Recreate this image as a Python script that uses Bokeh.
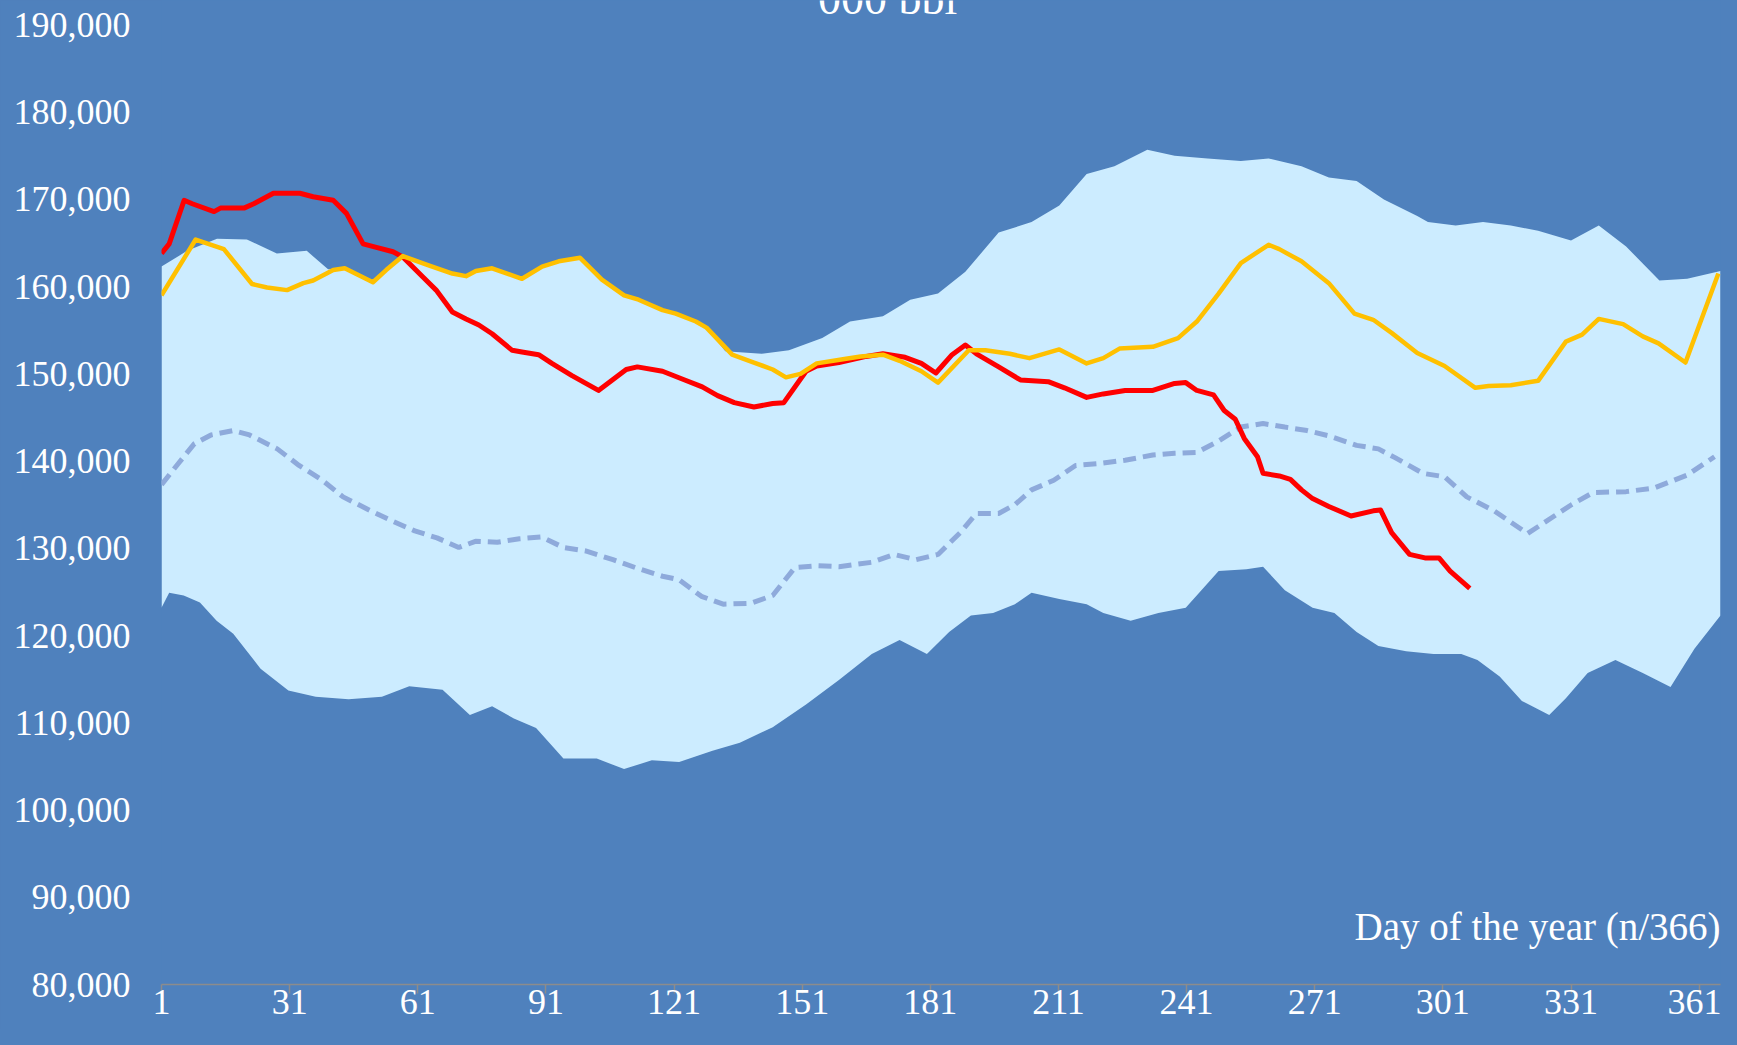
from bokeh.plotting import figure
from bokeh.models import FixedTicker, NumeralTickFormatter, Label, Range1d
from bokeh.embed import file_html
from bokeh.resources import INLINE

# ---- data (day of year, thousand barrels) ----
band_upper_days = [1, 7, 14, 21, 28, 35, 40, 43.9, 50.5, 53.6, 57.5, 63.7, 69.1, 72.3, 74.6, 78.4, 85.4,
                   90.1, 94.0, 99.0, 104.1, 109.3, 112.7, 118.3, 121.4, 126.1, 128.6, 133.0, 141.5, 147.9,
                   155.7, 162.2, 169.9, 176.3, 182.8, 189.2, 197.0, 204.7, 211.2, 217.6, 224.1, 231.8,
                   238.2, 245.9, 253.7, 260.2, 267.9, 274.3, 280.8, 287.2, 295.0, 297.5, 304.0, 310.4,
                   316.9, 323.3, 331.0, 337.5, 343.9, 351.7, 358.2, 366]
band_upper = [162.3, 164.1, 165.5, 165.4, 163.8, 164.1, 162.0, 162.1, 160.5, 161.9, 163.5, 162.4, 161.5,
              161.2, 161.8, 162.1, 160.9, 162.3, 162.9, 163.3, 160.8, 159.0, 158.5, 157.3, 156.9, 156.0,
              155.3, 152.6, 152.3, 152.7, 154.1, 156.0, 156.6, 158.5, 159.2, 161.7, 166.2, 167.4, 169.3,
              172.9, 173.8, 175.7, 175.0, 174.7, 174.4, 174.7, 173.8, 172.5, 172.1, 170.0, 168.1, 167.4,
              167.0, 167.4, 167.0, 166.4, 165.3, 167.0, 164.6, 160.7, 160.9, 161.8]

band_lower_days = [1, 2.8, 6.2, 10.0, 13.9, 17.8, 24.2, 30.7, 37.1, 44.8, 52.6, 59.0, 66.8, 73.2, 78.4,
                   83.5, 88.7, 95.1, 102.9, 109.3, 115.8, 122.2, 130.0, 136.4, 144.1, 151.9, 159.6, 167.3,
                   173.8, 180.2, 185.4, 190.5, 195.7, 200.8, 204.7, 211.2, 217.6, 221.5, 227.9, 234.4,
                   240.8, 248.5, 255.0, 258.9, 264.0, 270.5, 275.6, 280.8, 285.9, 292.4, 298.8, 305.3,
                   309.1, 314.3, 319.5, 325.9, 329.8, 334.9, 341.4, 347.8, 354.3, 359.9, 366]
band_lower = [123.2, 124.9, 124.6, 123.8, 121.7, 120.2, 116.2, 113.7, 113.0, 112.7, 113.0, 114.2, 113.8,
              110.9, 111.9, 110.5, 109.4, 105.9, 105.9, 104.7, 105.7, 105.5, 106.8, 107.7, 109.5, 112.1,
              114.9, 117.9, 119.5, 117.9, 120.4, 122.3, 122.6, 123.6, 124.9, 124.2, 123.6, 122.6, 121.7,
              122.6, 123.2, 127.4, 127.6, 127.9, 125.2, 123.2, 122.6, 120.4, 118.8, 118.2, 117.9, 117.9,
              117.2, 115.3, 112.5, 110.9, 112.8, 115.7, 117.2, 115.7, 114.1, 118.5, 122.3]

avg_days = [1, 4.9, 8.7, 12.6, 17.8, 21.6, 28.1, 33.2, 38.4, 43.5, 50.0, 55.2, 60.3, 65.5, 70.6, 74.5,
            79.6, 84.8, 90.0, 95.1, 100.3, 106.7, 111.9, 118.3, 122.2, 127.4, 132.5, 139.0, 144.1, 149.3,
            154.4, 159.6, 167.3, 172.5, 177.6, 182.8, 188.0, 191.8, 197.0, 200.8, 204.7, 209.9, 215.0,
            220.2, 226.6, 233.1, 238.2, 243.4, 248.5, 253.7, 258.9, 264.0, 269.2, 274.3, 280.8, 285.9,
            289.8, 296.3, 301.4, 306.6, 313.0, 320.8, 324.6, 331.1, 336.2, 343.9, 350.4, 358.2, 364.6]
avg_vals = [137.3, 139.7, 142.0, 143.0, 143.5, 143.0, 141.4, 139.5, 137.9, 135.9, 134.3, 133.1, 132.0,
            131.2, 130.1, 130.8, 130.7, 131.1, 131.3, 130.1, 129.7, 128.7, 127.8, 126.8, 126.4, 124.5,
            123.6, 123.7, 124.6, 127.8, 128.0, 127.9, 128.4, 129.3, 128.7, 129.3, 131.8, 134.0, 134.0,
            135.0, 136.7, 137.8, 139.5, 139.7, 140.1, 140.7, 140.9, 141.0, 142.3, 143.9, 144.3, 143.9,
            143.5, 142.9, 141.8, 141.4, 140.4, 138.6, 138.2, 135.9, 134.3, 131.7, 132.9, 135.0, 136.4,
            136.5, 136.9, 138.4, 140.5]

red_days = [1, 2.8, 6.3, 8.2, 13.3, 14.8, 20.3, 22.6, 27.2, 33.4, 36.5, 41.2, 44.3, 48.2, 51.3, 55.2,
            57.5, 62.2, 65.3, 69.1, 72.3, 75.3, 78.4, 83.1, 85.4, 89.3, 92.4, 97.1, 103.3, 109.8, 112.4,
            118.3, 123.5, 127.6, 131.2, 135.1, 139.7, 144.1, 146.7, 151.9, 154.4, 159.6, 166.0, 169.9,
            175.1, 178.9, 182.3, 186.1, 189.2, 191.8, 197.0, 202.1, 208.6, 212.4, 217.6, 221.5, 226.6,
            233.1, 238.2, 240.8, 243.4, 247.3, 249.8, 252.4, 254.5, 257.6, 258.9, 262.7, 265.3, 267.9,
            270.5, 274.3, 279.5, 284.7, 286.4, 289.0, 293.2, 296.8, 300.1, 302.7, 307.3]
red_vals = [163.8, 164.9, 169.9, 169.5, 168.6, 169.0, 169.0, 169.5, 170.7, 170.7, 170.3, 169.9, 168.4,
            164.9, 164.5, 164.0, 163.4, 161.1, 159.6, 157.1, 156.3, 155.6, 154.6, 152.7, 152.5, 152.2,
            151.2, 149.8, 148.1, 150.5, 150.8, 150.3, 149.3, 148.5, 147.5, 146.7, 146.2, 146.6, 146.7,
            150.3, 150.9, 151.3, 152.0, 152.3, 151.9, 151.2, 150.1, 152.2, 153.3, 152.3, 150.8, 149.3,
            149.1, 148.4, 147.3, 147.7, 148.1, 148.1, 148.9, 149.0, 148.1, 147.6, 145.8, 144.8, 142.6,
            140.5, 138.6, 138.3, 137.9, 136.7, 135.7, 134.8, 133.7, 134.3, 134.4, 131.8, 129.3, 128.9,
            128.9, 127.4, 125.4]

orange_days = [1, 9.0, 15.6, 22.2, 25.7, 30.4, 34.2, 36.5, 41.2, 43.9, 50.5, 53.6, 57.5, 63.7, 69.1,
               72.3, 74.6, 78.4, 85.4, 90.1, 94.0, 99.0, 104.1, 109.3, 112.7, 118.3, 121.4, 126.1, 128.6,
               134.6, 139.7, 144.1, 147.2, 150.6, 154.4, 160.9, 164.7, 169.9, 173.8, 178.9, 182.8, 190.0,
               193.9, 199.6, 204.2, 211.2, 217.6, 221.5, 225.3, 233.1, 239.0, 243.4, 248.5, 253.7, 260.2,
               262.7, 267.9, 274.3, 280.3, 284.7, 289.0, 295.0, 301.4, 308.6, 311.7, 316.9, 323.3, 329.8,
               333.6, 337.5, 343.2, 347.8, 351.5, 357.8, 365.5]
orange_vals = [159.0, 165.4, 164.3, 160.3, 159.9, 159.6, 160.4, 160.7, 161.9, 162.1, 160.5, 161.9, 163.5,
               162.4, 161.5, 161.2, 161.8, 162.1, 160.9, 162.3, 162.9, 163.3, 160.8, 159.0, 158.5, 157.3,
               156.9, 156.0, 155.3, 152.2, 151.3, 150.5, 149.6, 150.0, 151.2, 151.7, 152.0, 152.2, 151.5,
               150.3, 149.0, 152.7, 152.7, 152.3, 151.8, 152.8, 151.2, 151.8, 152.9, 153.1, 154.1, 156.0,
               159.2, 162.7, 164.8, 164.3, 162.9, 160.4, 156.9, 156.2, 154.7, 152.4, 150.9, 148.4, 148.6,
               148.7, 149.2, 153.7, 154.5, 156.3, 155.7, 154.3, 153.5, 151.3, 161.5]

x_ticks = [1, 31, 61, 91, 121, 151, 181, 211, 241, 271, 301, 331, 361]
y_ticks = [80000, 90000, 100000, 110000, 120000, 130000, 140000, 150000, 160000, 170000, 180000, 190000]

K = 1000
BG = "#4F81BD"
FONT = "Liberation Serif"

p = figure(width=1721, height=1029, output_backend="svg", toolbar_location=None,
           x_range=Range1d(1, 366), y_range=Range1d(80000, 192800),
           min_border_left=161, min_border_right=1, min_border_top=0, min_border_bottom=45)
p.background_fill_color = BG
p.border_fill_color = BG
p.outline_line_color = None
p.grid.visible = False

band_x = band_upper_days + band_lower_days[::-1]
band_y = [v * K for v in band_upper] + [v * K for v in band_lower[::-1]]
p.patch(band_x, band_y, fill_color="#CCECFF", line_color=None)

p.line(avg_days, [v * K for v in avg_vals], line_color="#8EAADB", line_width=5, line_dash="13 7")
p.line(red_days, [v * K for v in red_vals], line_color="#FF0000", line_width=5, line_join="round")
p.line(orange_days, [v * K for v in orange_vals], line_color="#FFC000", line_width=4.5, line_join="round")

# axes
p.xaxis.ticker = FixedTicker(ticks=x_ticks)
p.xaxis.minor_tick_line_color = None
p.xaxis.axis_line_color = "#8C8C8C"
p.xaxis.axis_line_width = 1.5
p.xaxis.major_tick_line_color = "#8C8C8C"
p.xaxis.major_tick_line_width = 1.5
p.xaxis.major_tick_in = 0
p.xaxis.major_tick_out = 9
p.xaxis.major_label_standoff = -4
p.xaxis.major_label_text_font = FONT
p.xaxis.major_label_text_font_size = "36px"
p.xaxis.major_label_text_color = "white"

p.yaxis.ticker = FixedTicker(ticks=y_ticks)
p.yaxis.formatter = NumeralTickFormatter(format="0,0")
p.yaxis.axis_line_color = None
p.yaxis.major_tick_line_color = None
p.yaxis.minor_tick_line_color = None
p.yaxis.major_label_standoff = 25
p.yaxis.major_label_text_font = FONT
p.yaxis.major_label_text_font_size = "36px"
p.yaxis.major_label_text_color = "white"

p.add_layout(Label(x=366, y=86630, text="Day of the year (n/366)", text_align="right",
                   text_baseline="middle", text_color="white", text_font=FONT,
                   text_font_size="39px"))
p.add_layout(Label(x=171, y=190160, text="000 bbl", text_align="center",
                   text_baseline="bottom", text_color="white", text_font=FONT,
                   text_font_size="46px"))

html = file_html(p, INLINE)
html = html.replace("<head>", "<head><style>html, body { background: #4F81BD; }</style>", 1)
open("out.html", "w").write(html)
